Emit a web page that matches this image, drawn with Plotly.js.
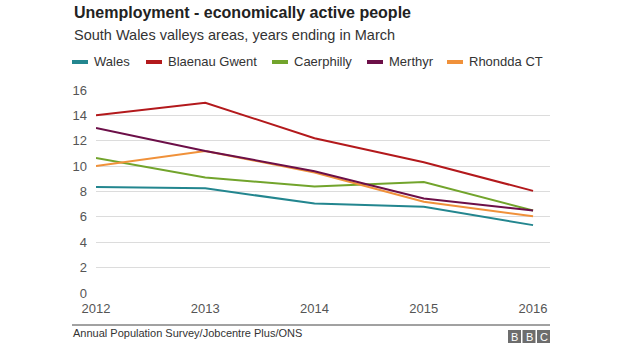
<!DOCTYPE html>
<html>
<head>
<meta charset="utf-8">
<script src="https://cdn.plot.ly/plotly-3.0.1.min.js"></script>
<style>
html,body{margin:0;padding:0;background:#fff;}
#chart{width:624px;height:351px;}
</style>
</head>
<body>
<div id="chart"></div>
<script>
// ---- data ----
const years = [2012, 2013, 2014, 2015, 2016];
const seriesNames = ["Wales", "Blaenau Gwent", "Caerphilly", "Merthyr", "Rhondda CT"];
const wales = [8.35, 8.25, 7.05, 6.8, 5.35];
const blaenauGwent = [14.0, 15.0, 12.2, 10.3, 8.05];
const caerphilly = [10.65, 9.1, 8.4, 8.75, 6.5];
const merthyr = [13.0, 11.2, 9.6, 7.45, 6.5];
const rhonddaCT = [10.0, 11.2, 9.5, 7.2, 6.05];
const yTicks = [0, 2, 4, 6, 8, 10, 12, 14, 16];
const xTickLabels = ["2012", "2013", "2014", "2015", "2016"];
const titleText = "Unemployment - economically active people";
const subtitleText = "South Wales valleys areas, years ending in March";
const sourceText = "Annual Population Survey/Jobcentre Plus/ONS";

// ---- styling ----
const colors = ["#23868f", "#b3191c", "#72a42c", "#6c0f48", "#f0913a"];
const seriesValues = [wales, blaenauGwent, caerphilly, merthyr, rhonddaCT];
const W = 624, H = 351;
const M = {l: 96, r: 74, t: 90, b: 58};
const pw = W - M.l - M.r, ph = H - M.t - M.b;
const px = x => (x - M.l) / pw;
const py = y => (H - M.b - y) / ph;
const FONT = "Liberation Sans, Arial, sans-serif";

const order = [0, 2, 4, 3, 1];
const traces = order.map(i => ({
  x: years, y: seriesValues[i], type: "scatter", mode: "lines",
  name: seriesNames[i], line: {color: colors[i], width: 2},
  hoverinfo: "x+y+name", showlegend: false
}));

const legendX = [72, 146, 272, 367, 447];
const shapes = [];
const annotations = [];
seriesNames.forEach((n, i) => {
  shapes.push({type: "line", xref: "paper", yref: "paper",
    x0: px(legendX[i]), x1: px(legendX[i] + 16), y0: py(62), y1: py(62),
    line: {color: colors[i], width: 4}});
  annotations.push({xref: "paper", yref: "paper", x: px(legendX[i] + 20), y: py(62),
    xanchor: "left", yanchor: "middle", showarrow: false, text: n,
    font: {family: FONT, size: 13, color: "#333"}});
});
annotations.push({xref: "paper", yref: "paper", x: px(72), y: py(13), xanchor: "left", yanchor: "middle",
  showarrow: false, text: "<b>" + titleText + "</b>", font: {family: FONT, size: 16, color: "#222"}});
annotations.push({xref: "paper", yref: "paper", x: px(72), y: py(35), xanchor: "left", yanchor: "middle",
  showarrow: false, text: subtitleText, font: {family: FONT, size: 14.5, color: "#333"}});
annotations.push({xref: "paper", yref: "paper", x: px(71), y: py(333), xanchor: "left", yanchor: "middle",
  showarrow: false, text: sourceText, font: {family: FONT, size: 11, color: "#333"}});
["B", "B", "C"].forEach((c, i) => {
  const x0 = 508 + i * 14.5;
  shapes.push({type: "rect", xref: "paper", yref: "paper", x0: px(x0), x1: px(x0 + 13),
    y0: py(343), y1: py(330), fillcolor: "#6d6d6d", line: {width: 0}});
  annotations.push({xref: "paper", yref: "paper", x: px(x0 + 6.5), y: py(336.5), xanchor: "center", yanchor: "middle",
    showarrow: false, text: c, font: {family: FONT, size: 11, color: "#fff"}});
});
shapes.push({type: "line", xref: "paper", yref: "paper", x0: px(72), x1: px(550), y0: py(325), y1: py(325),
  line: {color: "#444", width: 1}});

const layout = {
  width: W, height: H, margin: M,
  paper_bgcolor: "#fff", plot_bgcolor: "#fff",
  showlegend: false,
  font: {family: FONT, color: "#555"},
  xaxis: {
    range: [2012, 2016.155], tickmode: "array", tickvals: years, ticktext: xTickLabels,
    showgrid: false, zeroline: false, showline: false, ticks: "",
    tickfont: {family: FONT, size: 13, color: "#555"}, ticklabelstandoff: 6
  },
  yaxis: {
    range: [0, 16], tickmode: "array", tickvals: yTicks,
    showgrid: true, gridcolor: "#dcdcdc", gridwidth: 1, zeroline: false, showline: false,
    ticks: "", tickfont: {family: FONT, size: 13, color: "#555"}, ticklabelstandoff: 8
  },
  shapes: shapes, annotations: annotations
};
Plotly.newPlot("chart", traces, layout, {displayModeBar: false, staticPlot: true});
</script>
</body>
</html>
